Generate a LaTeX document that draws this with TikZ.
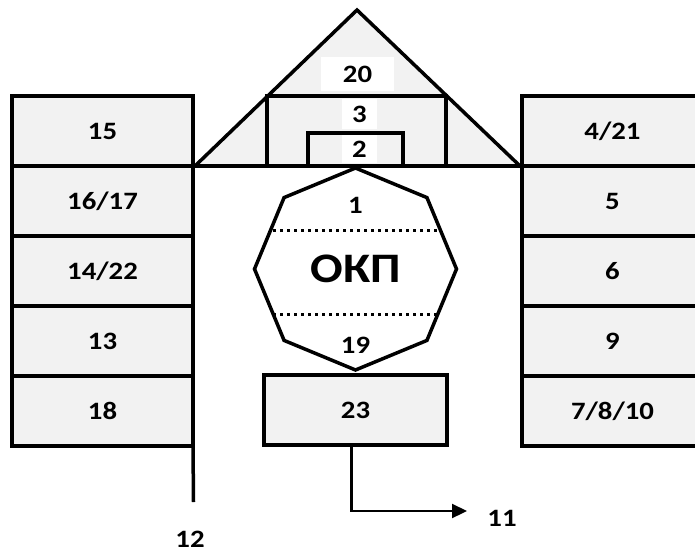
\documentclass[tikz,border=0pt]{standalone}
\usepackage{fontspec}
\setmainfont{Carlito}[FakeStretch=1.15]
\usetikzlibrary{arrows.meta,shapes.geometric}
\definecolor{cellgray}{HTML}{F2F2F2}
\tikzset{
  cell/.style={draw, fill=cellgray, line width=3.5pt, minimum width=181pt, minimum height=70pt, inner sep=0pt, outer sep=0pt, font=\fontsize{25}{30}\selectfont\bfseries},
  num/.style={font=\fontsize{25}{30}\selectfont\bfseries, inner sep=0pt},
  tag/.style={num, fill=white},
}
\begin{document}
\begin{tikzpicture}[x=1pt,y=-1pt]
\useasboundingbox (0,0) rectangle (695,554);
\clip (0,0) rectangle (695,554);
% roof
\draw[line width=3.5pt, fill=cellgray, line join=miter] (195,166) -- (357,10) -- (520,166);
\node[cell, minimum width=179pt] (b3) at (356.5,131) {};
\node[cell, minimum width=95pt, minimum height=33pt] (b2) at (355.5,149.5) {};
\node[tag, minimum width=73pt, minimum height=34pt] (t20) at (357.5,74) {20};
\node[tag, minimum width=35pt, minimum height=30pt] (t3) at (359.5,114) {3};
\node[tag, minimum width=35pt, minimum height=28pt] (t2) at (359.5,149) {2};
% left column
\node[cell] (c15) at (102.5,131) {15};
\node[cell] (c1617) at (102.5,201) {16/17};
\node[cell] (c1422) at (102.5,271) {14/22};
\node[cell] (c13) at (102.5,341) {13};
\node[cell] (c18) at (102.5,411) {18};
% right column
\node[cell] (c421) at (612.5,131) {4/21};
\node[cell] (c5) at (612.5,201) {5};
\node[cell] (c6) at (612.5,271) {6};
\node[cell] (c9) at (612.5,341) {9};
\node[cell] (c7810) at (612.5,411) {7/8/10};
\draw[line width=3.5pt] (c15.south east) -- (c421.south west);
% centre
\node[draw, line width=3.5pt, regular polygon, regular polygon sides=8, shape border rotate=22.5,
  minimum size=202pt, inner sep=0pt, font=\fontsize{42}{50}\selectfont\bfseries] (okp) at (355.5,269) {ОКП};
\node[num] (n1) at (355.5,205) {1};
\node[num] (n19) at (355.5,345) {19};
\draw[line width=3pt, dash pattern=on 3pt off 4pt] (273,230) -- (439,230);
\draw[line width=3pt, dash pattern=on 3pt off 4pt] (273,314) -- (439,314);
\node[cell, minimum width=183pt] (b23) at (355.5,410) {23};
% outlets
\coordinate (e12) at (193.5,502);
\coordinate (e11) at (467,511);
\draw[line width=3.5pt] (c18.south east) -- (e12);
\node[num] (l12) at (190,539) {12};
\draw[line width=2.2pt, -{Triangle[length=15pt,width=14pt]}] ([xshift=-4pt]b23.south) |- (e11);
\node[num] (l11) at (502,518) {11};
\end{tikzpicture}
\end{document}
